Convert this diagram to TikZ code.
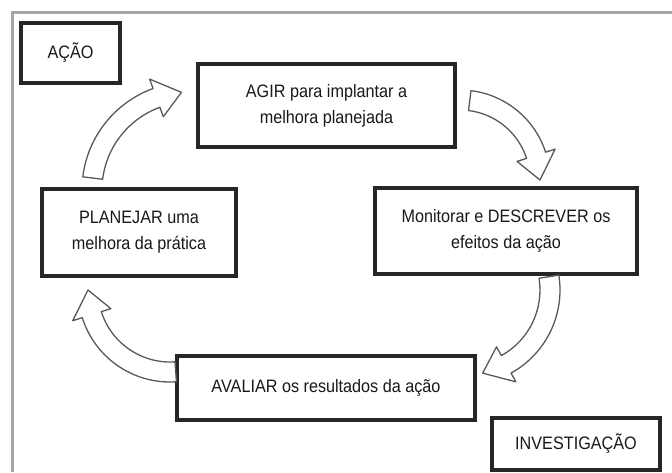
\documentclass[tikz,border=0pt]{standalone}
\usepackage{fontspec}
\setmainfont[FakeStretch=0.9]{Liberation Sans}
\begin{document}
\begin{tikzpicture}[x=1pt,y=1pt,
 box/.style={draw=black!85, line width=3.5pt, fill=white, inner sep=0pt, align=center,
   font=\fontsize{18}{26}\selectfont, text=black!90},
 barrow/.style={draw=black!65, line width=1.3pt, fill=white, line join=round}]
\useasboundingbox (0,0) rectangle (672,472);
\draw[gray!70, line width=3pt] (12,0) -- (12,459) -- (672,459);
\node[box, minimum width=99pt, minimum height=60pt] (acao) at (70.5,419) {AÇÃO};
\node[box, minimum width=257pt, minimum height=83pt] (agir) at (326.5,366.5) {AGIR para implantar a\\melhora planejada};
\node[box, minimum width=194pt, minimum height=87pt] (plan) at (139,239.5) {PLANEJAR uma\\melhora da prática};
\node[box, minimum width=262pt, minimum height=86pt] (mon) at (506,241) {Monitorar e DESCREVER os\\efeitos da ação};
\node[box, minimum width=298pt, minimum height=64pt] (aval) at (326,84) {AVALIAR os resultados da ação};
\node[box, minimum width=168pt, minimum height=52pt] (inv) at (576,28) {INVESTIGAÇÃO};
% curved block arrows
\begin{scope}[shift={(190,282)}]
\draw[barrow] (173:108) arc[start angle=173,end angle=110,radius=108pt] -- (110:118) -- (95:98) -- (110:78) -- (110:88) arc[start angle=110,end angle=173,radius=88pt] -- cycle;
\end{scope}
\begin{scope}[shift={(460,292)}]
\draw[barrow] (83:90) arc[start angle=83,end angle=18,radius=90pt] -- (18:100) -- (0:80) -- (18:60) -- (18:70) arc[start angle=18,end angle=83,radius=70pt] -- cycle;
\end{scope}
\begin{scope}[shift={(465,182)}]
\draw[barrow] (9:95) arc[start angle=9,end angle=-61,radius=95pt] -- (-61:105) -- (-78:85) -- (-61:65) -- (-61:75) arc[start angle=-61,end angle=9,radius=75pt] -- cycle;
\end{scope}
\begin{scope}[shift={(170,182)}]
\draw[barrow] (-86:92) arc[start angle=-86,end angle=-162.5,radius=92pt] -- (-162.5:102) -- (-180:82) -- (-162.5:62) -- (-162.5:72) arc[start angle=-162.5,end angle=-86,radius=72pt] -- cycle;
\end{scope}
\end{tikzpicture}
\end{document}
